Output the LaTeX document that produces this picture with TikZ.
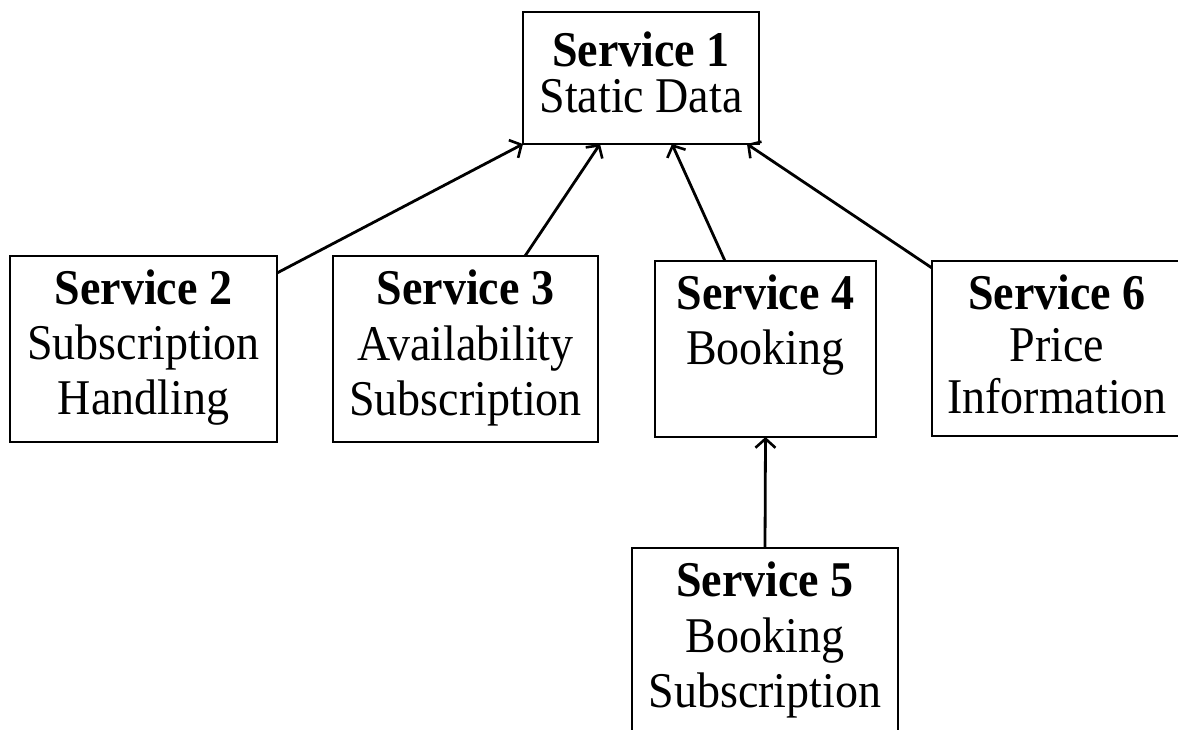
\documentclass[tikz,border=0pt]{standalone}
\usepackage{fontspec}
\setmainfont[FakeStretch=0.92]{Liberation Serif}
\usetikzlibrary{arrows.meta}
\begin{document}
\begin{tikzpicture}[x=1pt,y=-1pt,
  box/.style={draw, line width=1.7pt, rectangle, inner sep=0pt, outer sep=0pt},
  ln/.style={anchor=base, inner sep=0pt, font=\fontsize{50}{55}\selectfont},
  hd/.style={anchor=base, inner sep=0pt, font=\fontsize{50}{55}\selectfont\bfseries},
  conn/.style={line width=2.8pt, -{Straight Barb[length=9pt,width=20pt,line width=2.6pt]}}]
\useasboundingbox (0,0) rectangle (1178,729);
\clip (0,0) rectangle (1178,729);
% boxes
\node[box, minimum width=236pt, minimum height=132pt] (s1) at (641,78) {};
\node[box, minimum width=267pt, minimum height=186pt] (s2) at (143.5,349) {};
\node[box, minimum width=265pt, minimum height=186pt] (s3) at (465.5,349) {};
\node[box, minimum width=221pt, minimum height=176pt] (s4) at (765.5,349) {};
\node[box, minimum width=266pt, minimum height=190pt] (s5) at (765,643) {};
\node[box, minimum width=250pt, minimum height=175pt] (s6) at (1057,348.5) {};
% texts
\node[hd] (s1a) at (641,66) {Service 1};
\node[ln] (s1b) at (641,112) {Static Data};
\node[hd] (s2a) at (143.5,304) {Service 2};
\node[ln] (s2b) at (143.5,359) {Subscription};
\node[ln] (s2c) at (143.5,414) {Handling};
\node[hd] (s3a) at (465.5,304) {Service 3};
\node[ln] (s3b) at (465.5,360) {Availability};
\node[ln] (s3c) at (465.5,415) {Subscription};
\node[hd] (s4a) at (765.5,309) {Service 4};
\node[ln] (s4b) at (765.5,364) {Booking};
\node[hd] (s5a) at (765,596) {Service 5};
\node[ln] (s5b) at (765,652) {Booking};
\node[ln] (s5c) at (765,707) {Subscription};
\node[hd] (s6a) at (1057,309) {Service 6};
\node[ln] (s6b) at (1057,361) {Price};
\node[ln] (s6c) at (1057,413) {Information};
% connectors
\draw[conn] ([yshift=-17pt]s2.north east) -- (s1.south west);
\draw[conn] ([xshift=-73pt]s3.north east) -- ([xshift=77pt]s1.south west);
\draw[conn] ([xshift=70pt]s4.north west) -- ([xshift=-87pt]s1.south east);
\draw[conn] ([yshift=-7pt]s6.north west) -- ([xshift=-12pt]s1.south east);
\draw[conn] (s5.north) -- (s4.south);
\end{tikzpicture}
\end{document}
